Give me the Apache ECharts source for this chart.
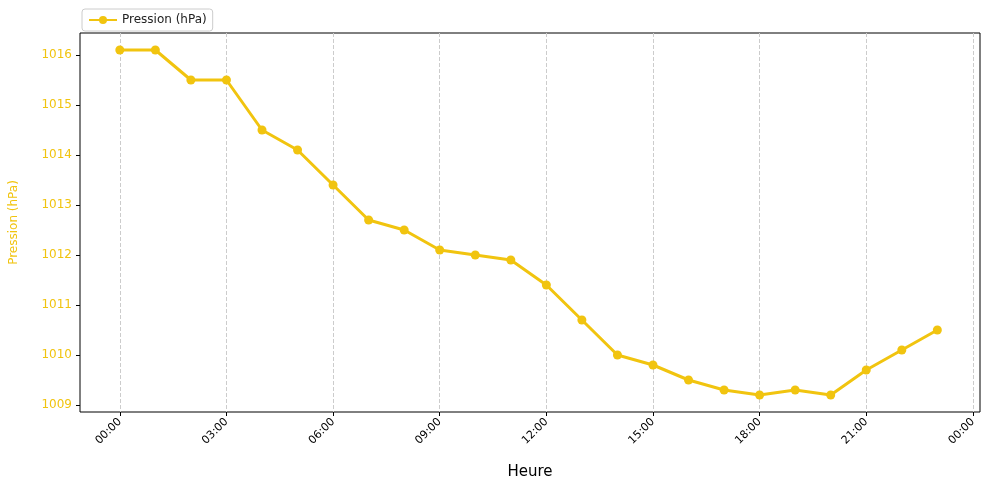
<!DOCTYPE html>
<html>
<head>
<meta charset="utf-8">
<script src="https://cdn.jsdelivr.net/npm/echarts@6/dist/echarts.min.js"></script>
<style>html,body{margin:0;padding:0;background:#fff}#c{width:989px;height:493px}</style>
</head>
<body>
<div id="c"></div>
<script>
// heures (0..23) et pression
var hours = [0,1,2,3,4,5,6,7,8,9,10,11,12,13,14,15,16,17,18,19,20,21,22,23];
var pression = [1016.1,1016.1,1015.5,1015.5,1014.5,1014.1,1013.4,1012.7,1012.5,1012.1,1012.0,1011.9,
	1011.4,1010.7,1010.0,1009.8,1009.5,1009.3,1009.2,1009.3,1009.2,1009.7,1010.1,1010.5];
var xTicks = [0,3,6,9,12,15,18,21,24];
var yTicks = [1009,1010,1011,1012,1013,1014,1015,1016];
var gold = '#f1c40f';

function fmtHour(v) {
	var h = Math.round(v) % 24;
	return (h < 10 ? '0' : '') + h + ':00';
}

var chart = echarts.init(document.getElementById('c'));
chart.setOption({
	animation: false,
	textStyle: {fontFamily: 'DejaVu Sans'},
	legend: {
		left: 82, top: 9, itemWidth: 28, itemHeight: 10,
		borderColor: '#ccc', borderWidth: 1, borderRadius: 3, padding: [5, 6],
		textStyle: {fontSize: 12, color: '#222'},
		data: ['Pression (hPa)']
	},
	grid: {left: 76, right: 9, top: 33, bottom: 81, show: true, borderColor: '#000', borderWidth: 1},
	xAxis: {
		type: 'value', min: -1.12, max: 24.2,
		name: 'Heure', nameLocation: 'middle', nameGap: 53,
		nameTextStyle: {fontSize: 15, color: '#000'},
		axisLine: {show: false, onZero: false},
		axisTick: {show: true, customValues: xTicks, length: 4, lineStyle: {color: '#000'}},
		axisLabel: {customValues: xTicks, rotate: 45, formatter: fmtHour, color: '#000', fontSize: 11, margin: 8},
		splitLine: {show: true, customValues: xTicks, lineStyle: {type: 'dashed', color: '#ccc'}}
	},
	yAxis: {
		type: 'value', min: 1008.86, max: 1016.44,
		name: 'Pression (hPa)', nameLocation: 'middle', nameGap: 60,
		nameTextStyle: {fontSize: 12, color: gold},
		axisLine: {show: false, onZero: false},
		axisTick: {show: true, customValues: yTicks, length: 4, lineStyle: {color: '#000'}},
		axisLabel: {customValues: yTicks, color: gold, fontSize: 12, margin: 8,
			formatter: function(v) { return String(Math.round(v)); }},
		splitLine: {show: false}
	},
	series: [{
		name: 'Pression (hPa)', type: 'line',
		data: hours.map(function(h, i) { return [h, pression[i]]; }),
		symbol: 'circle', symbolSize: 9,
		lineStyle: {color: gold, width: 3},
		itemStyle: {color: gold}
	}]
});
</script>
</body>
</html>
